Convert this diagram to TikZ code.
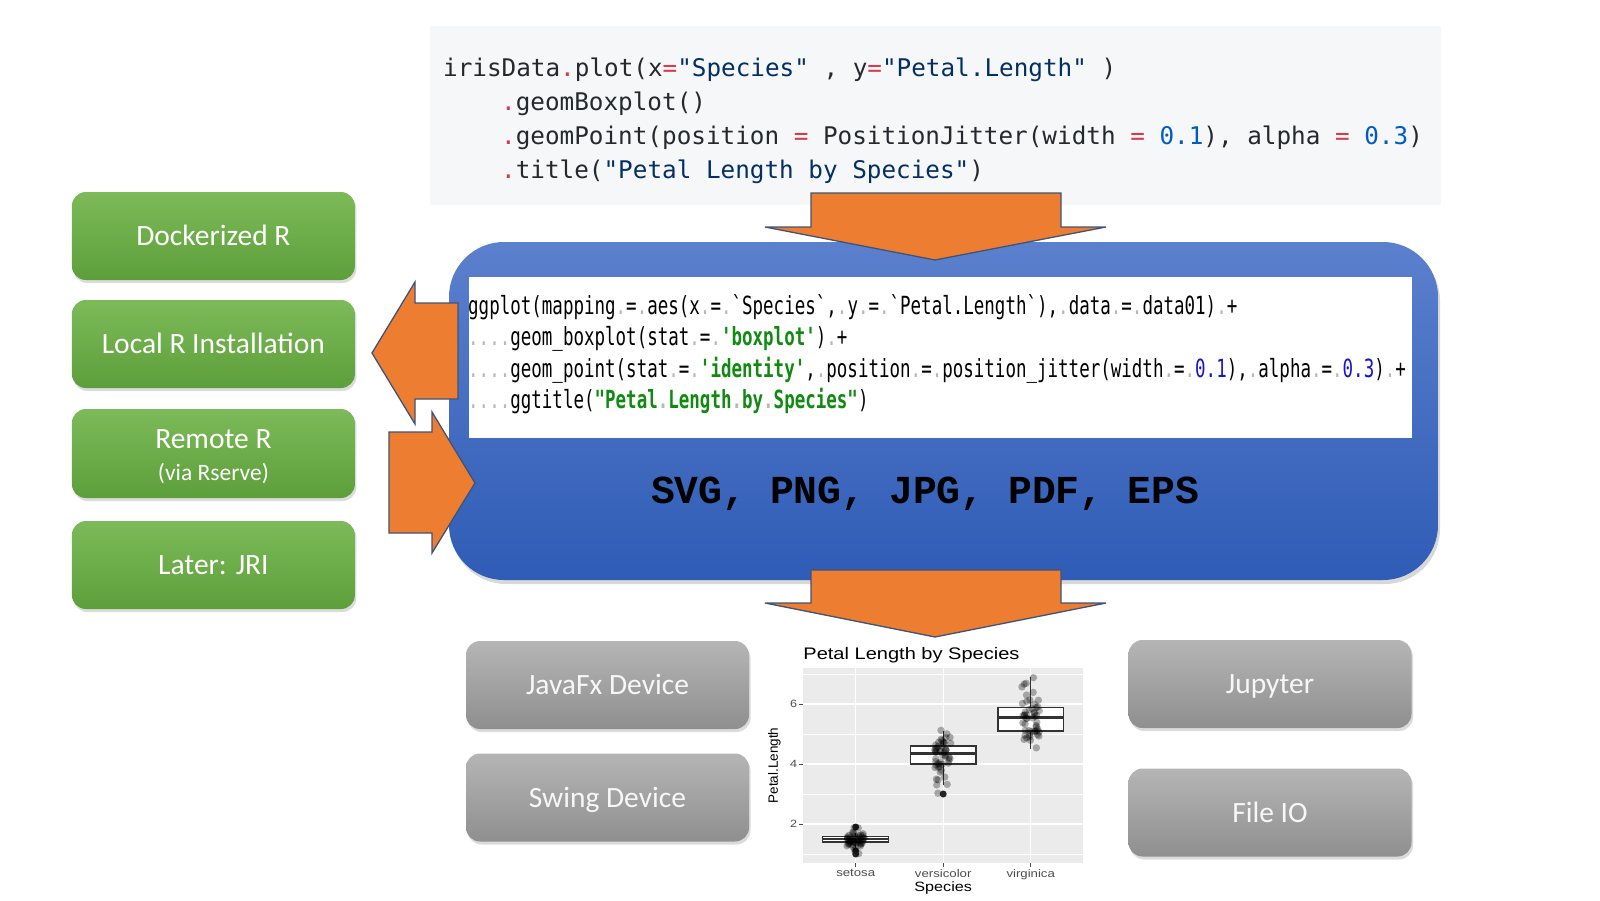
\documentclass[tikz,border=0pt]{standalone}
\usepackage{fontspec}
\usetikzlibrary{shadows}
\newfontfamily\boxfont{Carlito}
\newfontfamily\topcodefont[Ligatures=TeXOff]{DejaVu Sans Mono}
\newfontfamily\ggcodefont[Ligatures=TeXOff,FakeStretch=0.7]{DejaVu Sans Mono}
\newfontfamily\fmtfont[Ligatures=TeXOff]{Liberation Mono}
\newfontfamily\plotfont[FakeStretch=1.2]{Liberation Sans}
\newfontfamily\plotfontn{Liberation Sans}
\definecolor{codebg}{HTML}{F6F7F9}
\definecolor{cbase}{HTML}{24292E}
\definecolor{cred}{HTML}{D73A49}
\definecolor{cblue}{HTML}{005CC5}
\definecolor{cstr}{HTML}{032F62}
\definecolor{ggstr}{HTML}{118A11}
\definecolor{ggnum}{HTML}{1414D2}
\definecolor{gA}{HTML}{7DBA59}
\definecolor{gB}{HTML}{5C9F3A}
\definecolor{grA}{HTML}{B5B5B5}
\definecolor{grB}{HTML}{8F8F8F}
\definecolor{blA}{HTML}{5B80CD}
\definecolor{blB}{HTML}{2F5CB6}
\definecolor{orA}{HTML}{ED7D31}
\definecolor{arB}{HTML}{3F5378}
\definecolor{panelbg}{HTML}{EBEBEB}
\definecolor{axtxt}{HTML}{4D4D4D}
\newcommand\vs{\textcolor{black!28}{.}}
\begin{document}
\begin{tikzpicture}[x=1pt,y=-1pt,
  greenbox/.style={rounded corners=14pt, minimum width=283pt, minimum height=88pt,
    top color=gA, bottom color=gB, draw=none, text=white, inner sep=0pt, align=center,
    font=\boxfont\fontsize{29.5}{31}\selectfont,
    drop shadow={opacity=0.28, shadow xshift=1.5pt, shadow yshift=-3pt}},
  oneline/.style={text height=19pt, text depth=0pt},
  graybox/.style={greenbox, oneline, top color=grA, bottom color=grB, text=white!97!black},
  blockarrow/.style={fill=orA, draw=arB, line width=1.3pt, line join=miter},
  topline/.style={anchor=base west, inner sep=0pt, text=cbase, font=\topcodefont\fontsize{24.3}{28}\selectfont},
  ggline/.style={anchor=base west, inner sep=0pt, text=black, font=\ggcodefont\fontsize{25}{28}\selectfont},
  boxline/.style={draw=black!80, line width=1.2pt},
  ptcol/.style={fill=black, opacity=0.3}]
\useasboundingbox (0,0) rectangle (1600,900);
\fill[white] (0,0) rectangle (1600,900);

% top code box
\node[fill=codebg, minimum width=1011pt, minimum height=179.5pt, inner sep=0pt] (topbox) at (935.5,115.25) {};
\node[topline] (t1) at (443,76.5) {irisData\textcolor{cred}{.}plot(x\textcolor{cred}{=}\textcolor{cstr}{"Species"} , y\textcolor{cred}{=}\textcolor{cstr}{"Petal.Length"} )};
\node[topline] (t2) at (501,110.5) {\textcolor{cred}{.}geomBoxplot()};
\node[topline] (t3) at (501,144.5) {\textcolor{cred}{.}geomPoint(position \textcolor{cred}{=} PositionJitter(width \textcolor{cred}{=} \textcolor{cblue}{0.1}), alpha \textcolor{cred}{=} \textcolor{cblue}{0.3})};
\node[topline] (t4) at (501,178.5) {\textcolor{cred}{.}title(\textcolor{cstr}{"Petal Length by Species"})};

% green boxes
\node[greenbox, oneline] (dock) at (213.4,236) {Dockerized R};
\node[greenbox, oneline] (local) at (213.4,344) {Local R Installation};
\node[greenbox, minimum height=89pt] (remote) at (213.4,453.5) {};
\node[inner sep=0pt, align=center, text=white, font=\boxfont\fontsize{29.5}{31}\selectfont] (remotetxt) at (213.4,457) {Remote R\\[1pt]{\fontsize{23.5}{26}\selectfont (via Rserve)}};
\node[greenbox, oneline] (jri) at (213.4,565) {Later: JRI};

% blue engine box
\node[rounded corners=55pt, minimum width=989pt, minimum height=338pt, inner sep=0pt,
  top color=blA, bottom color=blB, draw=none,
  drop shadow={opacity=0.3, shadow xshift=2pt, shadow yshift=-4pt}] (engine) at (943.5,411) {};
\node[fill=white, minimum width=943pt, minimum height=161pt, inner sep=0pt] (ggbox) at (940.5,357.5) {};
\node[ggline] (g1) at (468,314) {ggplot(mapping\vs=\vs{}aes(x\vs=\vs`Species`,\vs{}y\vs=\vs`Petal.Length`),\vs{}data\vs=\vs{}data01)\vs+};
\node[ggline] (g2) at (468,345.5) {\vs\vs\vs\vs{}geom\_boxplot(stat\vs=\vs\textcolor{ggstr}{\bfseries'boxplot'})\vs+};
\node[ggline] (g3) at (468,377) {\vs\vs\vs\vs{}geom\_point(stat\vs=\vs\textcolor{ggstr}{\bfseries'identity'},\vs{}position\vs=\vs{}position\_jitter(width\vs=\vs\textcolor{ggnum}{0.1}),\vs{}alpha\vs=\vs\textcolor{ggnum}{0.3})\vs+};
\node[ggline] (g4) at (468,408.5) {\vs\vs\vs\vs{}ggtitle(\textcolor{ggstr}{\bfseries"Petal\vs{}Length\vs{}by\vs{}Species"})};
\node[anchor=base, inner sep=0pt, font=\fmtfont\bfseries\fontsize{39.7}{44}\selectfont] (fmts) at (925,503) {SVG, PNG, JPG, PDF, EPS};

% block arrows
\draw[blockarrow] (811,193) -- (1061,193) -- (1061,227) -- (1106,227) -- (935,260) -- (765,227) -- (811,227) -- cycle;
\draw[blockarrow] (811,570) -- (1061,570) -- (1061,603) -- (1106,603) -- (935,637) -- (765,603) -- (811,603) -- cycle;
\draw[blockarrow] (458,303) -- (458,399) -- (415,399) -- (415,424) -- (372,353) -- (415,282) -- (415,303) -- cycle;
\draw[blockarrow] (389,432) -- (432,432) -- (432,412) -- (475,483) -- (432,553) -- (432,533) -- (389,533) -- cycle;

% gray boxes
\node[graybox] (javafx) at (607.5,685) {JavaFx Device};
\node[graybox] (swing) at (607.5,797.5) {Swing Device};
\node[graybox] (jupyter) at (1270,684) {Jupyter};
\node[graybox] (fileio) at (1270,812.5) {File IO};

% plot
\begin{scope}[x=87.5pt, y=30pt, shift={(768.2pt,-884pt)}]
  \fill[panelbg] (0.4,0.7) rectangle (3.6,7.2);
  \foreach \v in {1,3,5,7} \draw[white, line width=0.6pt] (0.4,\v) -- (3.6,\v);
  \foreach \v in {2,4,6} \draw[white, line width=1.2pt] (0.4,\v) -- (3.6,\v);
  \foreach \u in {1,2,3} \draw[white, line width=1.2pt] (\u,0.7) -- (\u,7.2);
  \foreach \u/\lw/\qa/\md/\qb/\hw in {1/1.2/1.4/1.5/1.575/1.7, 2/3.3/4.0/4.35/4.6/5.1, 3/4.5/5.1/5.55/5.875/6.9} {
    \draw[boxline] (\u,\lw) -- (\u,\qa);
    \draw[boxline] (\u,\qb) -- (\u,\hw);
    \filldraw[boxline, fill=white] (\u-0.375,\qa) rectangle (\u+0.375,\qb);
    \draw[boxline, line width=2.4pt] (\u-0.375,\md) -- (\u+0.375,\md);
  }
  \fill[black!85] (1,1.0) circle[radius=3.5pt] (1,1.1) circle[radius=3.5pt] (1,1.9) circle[radius=3.5pt] (2,3.0) circle[radius=3.5pt];
  \pgfmathsetseed{7}
  \foreach \v in {1.4,1.4,1.3,1.5,1.4,1.7,1.4,1.5,1.4,1.5,1.5,1.6,1.4,1.1,1.2,1.5,1.3,1.4,1.7,1.5,1.7,1.5,1.0,1.7,1.9,1.6,1.6,1.5,1.4,1.6,1.6,1.5,1.5,1.4,1.5,1.2,1.3,1.4,1.3,1.5,1.3,1.3,1.3,1.6,1.9,1.4,1.6,1.4,1.5,1.4} {
    \pgfmathsetmacro\jx{1+0.2*rnd-0.1}
    \pgfmathsetmacro\jy{\v+0.08*rnd-0.04}
    \fill[ptcol] (\jx,\jy) circle[radius=3.7pt];
  }
  \foreach \v in {4.7,4.5,4.9,4.0,4.6,4.5,4.7,3.3,4.6,3.9,3.5,4.2,4.0,4.7,3.6,4.4,4.5,4.1,4.5,3.9,4.8,4.0,4.9,4.7,4.3,4.4,4.8,5.0,4.5,3.5,3.8,3.7,3.9,5.1,4.5,4.5,4.7,4.4,4.1,4.0,4.4,4.6,4.0,3.3,4.2,4.2,4.2,4.3,3.0,4.1} {
    \pgfmathsetmacro\jx{2+0.2*rnd-0.1}
    \pgfmathsetmacro\jy{\v+0.08*rnd-0.04}
    \fill[ptcol] (\jx,\jy) circle[radius=3.7pt];
  }
  \foreach \v in {6.0,5.1,5.9,5.6,5.8,6.6,4.5,6.3,5.8,6.1,5.1,5.3,5.5,5.0,5.1,5.3,5.5,6.7,6.9,5.0,5.7,4.9,6.7,4.9,5.7,6.0,4.8,4.9,5.6,5.8,6.1,6.4,5.6,5.1,5.6,6.1,5.6,5.5,4.8,5.4,5.6,5.1,5.1,5.9,5.7,5.2,5.0,5.2,5.4,5.1} {
    \pgfmathsetmacro\jx{3+0.2*rnd-0.1}
    \pgfmathsetmacro\jy{\v+0.08*rnd-0.04}
    \fill[ptcol] (\jx,\jy) circle[radius=3.7pt];
  }
  % axes
  \foreach \v in {2,4,6} {
    \draw[black!70, line width=0.6pt] (0.4,\v) -- ++(-4pt,0);
    \node[anchor=east, inner sep=0pt, text=axtxt, font=\plotfont\fontsize{10.5}{12}\selectfont] (yl\v) at ([xshift=-6pt]0.4,\v) {\v};
  }
  \foreach \u/\nm in {1/setosa,2/versicolor,3/virginica} {
    \draw[black!70, line width=0.6pt] (\u,0.7) -- ++(0,-4pt);
    \node[anchor=north, inner sep=0pt, text=axtxt, font=\plotfont\fontsize{11}{12}\selectfont] (xl\u) at ([yshift=-6pt]\u,0.7) {\nm};
  }
  \node[anchor=base west, inner sep=0pt, font=\plotfont\fontsize{16.7}{18}\selectfont] (ptitle) at (0.4,7.5) {Petal Length by Species};
  \node[inner sep=0pt, font=\plotfont\fontsize{13.5}{15}\selectfont] (pxlab) at (2,-0.133) {Species};
  \node[rotate=90, inner sep=0pt, font=\plotfontn\fontsize{13.5}{15}\selectfont] (pylab) at (0.07,3.95) {Petal.Length};
\end{scope}
\end{tikzpicture}
\end{document}
